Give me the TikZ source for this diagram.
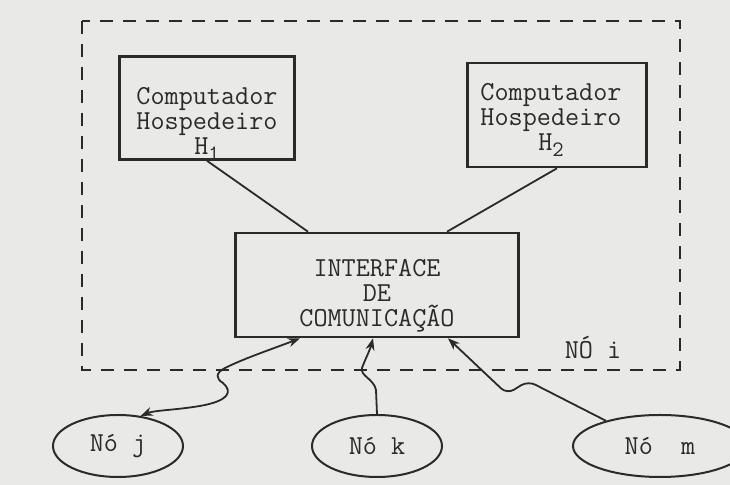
\documentclass[tikz,border=0pt]{standalone}
\usepackage{fontspec}
\usetikzlibrary{arrows.meta}
\usetikzlibrary{calc, shapes.geometric}
\usetikzlibrary{positioning}
\definecolor{papier}{RGB}{233,233,231}
\definecolor{tinte}{RGB}{42,42,42}

\begin{document}
\begin{tikzpicture}[x=0.5pt, y=-0.5pt, % Pixelraster, y nach unten
  schrift/.style={text=tinte, align=center, inner sep=0pt, font=\ttfamily\fontsize{13.7}{12.5}\selectfont},
  kasten/.style={draw=tinte, line width=1.3pt, inner sep=0pt},
  knoten/.style={ellipse, draw=tinte, line width=1pt, inner sep=0pt, minimum height=31pt, schrift},
  verbindung/.style={draw=tinte, line width=0.9pt}]
\fill[papier] (0,0) rectangle (730,485); % Hintergrund
\useasboundingbox (0,0) rectangle (730,485);
% Rahmen Knoten i
\draw[tinte, line width=1.1pt, dash pattern=on 6.5pt off 5pt] (82,21) rectangle (680,370);
\node[schrift] (noi) at (593,348) {NÓ i};
% Kaesten
\node[kasten, minimum width=87.5pt, minimum height=51.5pt] (h1) at (207,108) {};
\node[kasten, minimum width=89.5pt, minimum height=52pt] (h2) at (557,115) {};
\node[kasten, minimum width=141.5pt, minimum height=52pt] (ifc) at (377,285) {};
\node[schrift] (h1txt) at (207,124) {Computador\\Hospedeiro\\H\raisebox{-0.45ex}{\fontsize{11}{11}\selectfont 1}};
\node[schrift] (h2txt) at (551,120) {Computador\\Hospedeiro\\H\raisebox{-0.45ex}{\fontsize{11}{11}\selectfont 2}};
\node[schrift] (ifctxt) at (377,296) {INTERFACE\\DE\\COMUNICAÇÃO};
% Nachbarknoten
\node[knoten, minimum width=65pt] (j) at (118,446) {Nó j};
\node[knoten, minimum width=65pt] (k) at (377,446) {Nó k};
\node[knoten, minimum width=87pt] (m) at (660,446) {Nó~~m};
% Verbindungen
\draw[verbindung] (h1.south) -- ($(ifc.north)+(-69,0)$);
\draw[verbindung] (h2.south) -- ($(ifc.north)+(70,0)$);
\draw[verbindung, {Stealth[length=6pt, width=4.5pt]}-{Stealth[length=6pt, width=4.5pt]}] ($(ifc.south)+(-77,0)$) .. controls (275,348) and (245,358) .. (225,368) .. controls (215,373) and (216,379) .. (223,383) .. controls (233,392) and (228,400) .. (205,405) .. controls (180,410) and (155,410) .. (j.53);
\draw[verbindung, {Stealth[length=6pt, width=4.5pt]}-] ($(ifc.south)+(-4,0)$) .. controls (370,350) and (364,362) .. (362,368) .. controls (360,376) and (374,379) .. (376,390) -- (k.north);
\draw[verbindung, rounded corners=4pt, {Stealth[length=6pt, width=4.5pt]}-] ($(ifc.south)+(71,0)$) -- (507,394) -- (528,381) -- (m.155);
\end{tikzpicture}
\end{document}
